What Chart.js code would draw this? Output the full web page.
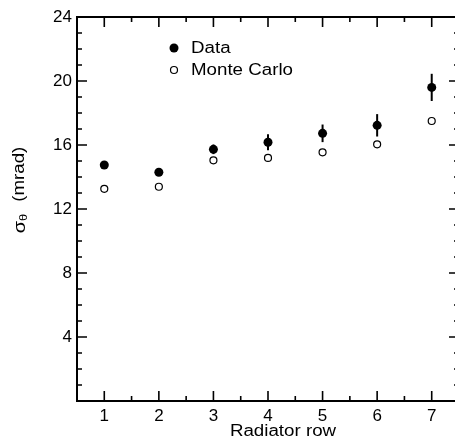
<!DOCTYPE html>
<html>
<head>
<meta charset="utf-8">
<script src="https://cdn.jsdelivr.net/npm/chart.js@4.4.0/dist/chart.umd.min.js"></script>
<style>
  html, body { margin: 0; padding: 0; background: #fff; overflow: hidden; }
  #wrap { width: 470px; height: 441px; }
</style>
</head>
<body>
<div id="wrap"><canvas id="myChart" width="470" height="441"></canvas></div>
<script>
const rows = [1, 2, 3, 4, 5, 6, 7];
const dataSigma = [14.75, 14.3, 15.73, 16.17, 16.73, 17.23, 19.6];
const dataErr = [0.25, 0.2, 0.3, 0.5, 0.55, 0.7, 0.85];
const mcSigma = [13.26, 13.39, 15.04, 15.19, 15.54, 16.04, 17.5];
const xTicks = [1, 2, 3, 4, 5, 6, 7];
const yTicks = [4, 8, 12, 16, 20, 24];

const FONT = 'Liberation Sans, Arial, sans-serif';
const STRETCH = 1.17;
const ctx = document.getElementById('myChart').getContext('2d');

// text a bit wider than the font, like the original
function wideText(c, txt, x, y, size, align) {
    c.save();
    c.font = size + 'px ' + FONT;
    const w = c.measureText(txt).width * STRETCH;
    let x0 = x;
    if (align === 'center') x0 = x - w / 2;
    c.translate(x0, y);
    c.scale(STRETCH, 1);
    c.textAlign = 'left';
    c.fillText(txt, 0, 0);
    c.restore();
    return w;
}

// frame, inward ticks, error bars, legend and axis titles
const extras = {
    id: 'extras',
    afterDatasetsDraw(chart) {
        const c = chart.ctx;
        const xs = chart.scales.x, ys = chart.scales.y;
        const a = chart.chartArea;
        c.save();
        c.strokeStyle = '#000';
        c.fillStyle = '#000';

        // error bars on data
        c.lineWidth = 2;
        rows.forEach((r, i) => {
            const px = xs.getPixelForValue(r);
            c.beginPath();
            c.moveTo(px, ys.getPixelForValue(dataSigma[i] - dataErr[i]));
            c.lineTo(px, ys.getPixelForValue(dataSigma[i] + dataErr[i]));
            c.stroke();
        });

        // frame
        c.lineWidth = 2;
        c.strokeRect(a.left, a.top, a.right - a.left, a.bottom - a.top);

        // ticks
        c.lineWidth = 1.6;
        c.beginPath();
        for (let v = 1; v <= 7; v += 0.5) {
            const px = xs.getPixelForValue(v);
            const len = Number.isInteger(v) ? 10 : 5;
            c.moveTo(px, a.bottom); c.lineTo(px, a.bottom - len);
            c.moveTo(px, a.top); c.lineTo(px, a.top + len);
        }
        for (let v = 1; v < 24; v += 1) {
            const py = ys.getPixelForValue(v);
            const len = v % 4 === 0 ? 10 : 5;
            c.moveTo(a.left, py); c.lineTo(a.left + len, py);
            c.moveTo(a.right, py); c.lineTo(a.right - len, py);
        }
        c.stroke();

        // legend
        c.textBaseline = 'middle';
        c.beginPath();
        c.arc(174, 48, 4.5, 0, Math.PI * 2);
        c.fill();
        wideText(c, 'Data', 191, 49, 16, 'left');
        c.lineWidth = 1.2;
        c.beginPath();
        c.arc(174, 70, 3.5, 0, Math.PI * 2);
        c.stroke();
        wideText(c, 'Monte Carlo', 191, 71, 16, 'left');

        // x title
        wideText(c, 'Radiator row', 283, 432, 16, 'center');

        // y title with subscript theta
        c.translate(20, 190);
        c.rotate(-Math.PI / 2);
        c.font = '17px ' + FONT;
        const wS = c.measureText('\u03C3').width * STRETCH;
        c.font = '11px ' + FONT;
        const wT = c.measureText('\u03B8').width * STRETCH;
        c.font = '16px ' + FONT;
        const wM = c.measureText('(mrad)').width * STRETCH;
        const gap = 12;
        const x0 = -(wS + wT + gap + wM) / 2;
        wideText(c, '\u03C3', x0, 0, 17, 'left');
        wideText(c, '\u03B8', x0 + wS, 4, 11, 'left');
        wideText(c, '(mrad)', x0 + wS + wT + gap, 0, 16, 'left');
        c.restore();
    }
};

const chart = new Chart(ctx, {
    type: 'scatter',
    data: {
        datasets: [{
            label: 'Data',
            data: rows.map((r, i) => ({ x: r, y: dataSigma[i] })),
            backgroundColor: '#000',
            borderColor: '#000',
            pointRadius: 4.5,
            borderWidth: 0
        }, {
            label: 'Monte Carlo',
            data: rows.map((r, i) => ({ x: r, y: mcSigma[i] })),
            backgroundColor: '#fff',
            borderColor: '#000',
            pointRadius: 3.5,
            borderWidth: 1.2
        }]
    },
    options: {
        responsive: false,
        animation: false,
        devicePixelRatio: 1,
        layout: { padding: { top: 17, right: 11, left: 0, bottom: 0 } },
        plugins: { legend: { display: false }, tooltip: { enabled: false } },
        scales: {
            x: {
                type: 'linear', min: 0.5, max: 7.5,
                grid: { display: false, drawTicks: false }, border: { display: false },
                ticks: { color: '#000', font: { size: 17, family: FONT }, padding: 5, maxRotation: 0 },
                afterBuildTicks: s => { s.ticks = xTicks.map(v => ({ value: v })); },
                afterFit: s => { s.height = 40; }
            },
            y: {
                type: 'linear', min: 0, max: 24,
                grid: { display: false, drawTicks: false }, border: { display: false },
                ticks: { color: '#000', font: { size: 17, family: FONT }, padding: 5 },
                afterBuildTicks: s => { s.ticks = yTicks.map(v => ({ value: v })); },
                afterFit: s => { s.width = 77; }
            }
        }
    },
    plugins: [extras]
});
</script>
</body>
</html>
